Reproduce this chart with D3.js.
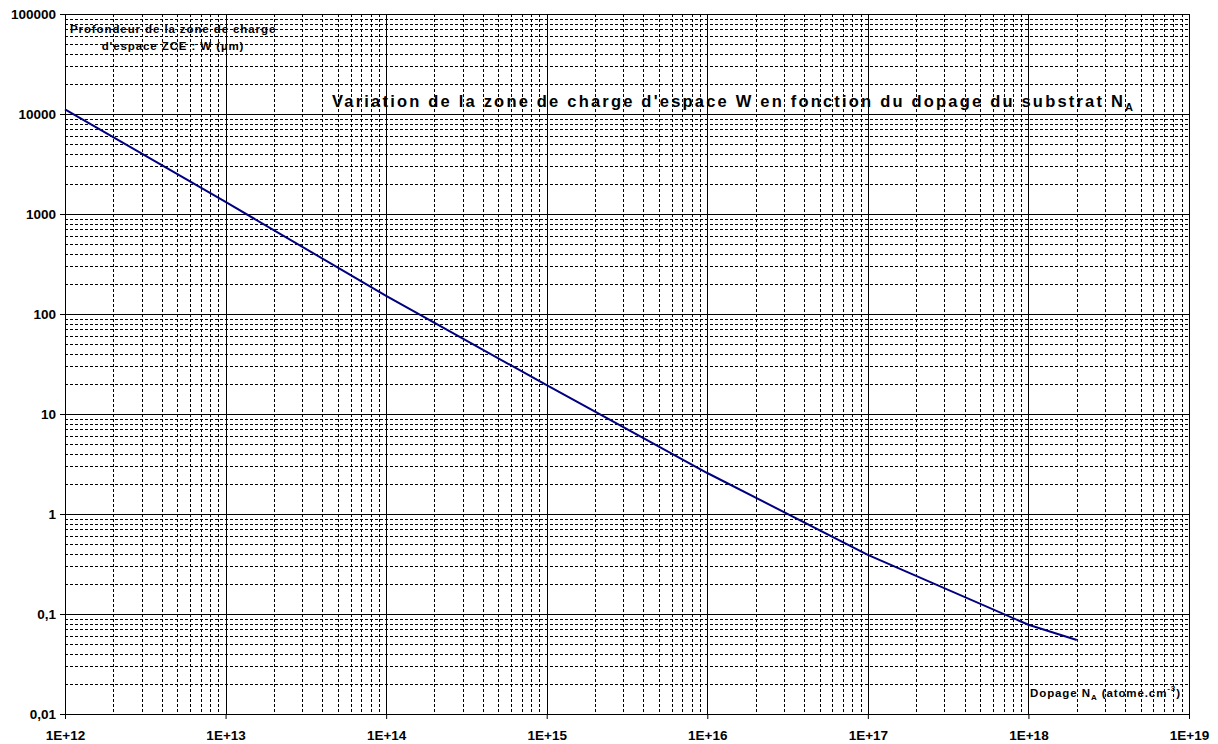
<!DOCTYPE html>
<html><head><meta charset="utf-8">
<script src="https://cdn.jsdelivr.net/npm/d3@7/dist/d3.min.js"></script>
<style>
body{margin:0;background:#fff;}
svg{display:block;font-family:"Liberation Sans",Arial,sans-serif;}
</style></head>
<body><svg id="c" width="1218" height="744"></svg>
<script>
// Data
const dopage = [1e12, 1e13, 1e14, 1e15, 1e16, 1e17, 1e18, 2e18];
const profondeurW = [11100, 1320, 152, 19.4, 2.57, 0.39, 0.078, 0.055];
const xTickValues = [1e12, 1e13, 1e14, 1e15, 1e16, 1e17, 1e18, 1e19];
const xTickLabels = ["1E+12", "1E+13", "1E+14", "1E+15", "1E+16", "1E+17", "1E+18", "1E+19"];
const yTickValues = [0.01, 0.1, 1, 10, 100, 1000, 10000, 100000];
const yTickLabels = ["0,01", "0,1", "1", "10", "100", "1000", "10000", "100000"];
const minorMultipliers = [2, 3, 4, 5, 6, 7, 8, 9];

const L = 65, R = 1189, T = 14, B = 714;
const svg = d3.select("#c");
const x = d3.scaleLog().domain([1e12, 1e19]).range([L, R]);
const y = d3.scaleLog().domain([0.01, 1e5]).range([B, T]);
const px = v => Math.round(v) + 0.5;

const g = svg.append("g");
// minor grid
const xMinor = [], yMinor = [];
xTickValues.slice(0, -1).forEach(d => minorMultipliers.forEach(m => xMinor.push(d * m)));
yTickValues.slice(0, -1).forEach(d => minorMultipliers.forEach(m => yMinor.push(d * m)));
g.selectAll(".vx").data(xMinor).enter().append("line")
  .attr("x1", d => px(x(d))).attr("x2", d => px(x(d))).attr("y1", T).attr("y2", B)
  .attr("stroke", "#000").attr("stroke-width", 1).attr("stroke-dasharray", "3,2");
g.selectAll(".hy").data(yMinor).enter().append("line")
  .attr("y1", d => px(y(d))).attr("y2", d => px(y(d))).attr("x1", L).attr("x2", R)
  .attr("stroke", "#000").attr("stroke-width", 1).attr("stroke-dasharray", "3,2");
// major grid
g.selectAll(".mx").data(xTickValues).enter().append("line")
  .attr("x1", d => px(x(d))).attr("x2", d => px(x(d))).attr("y1", T).attr("y2", B)
  .attr("stroke", "#000").attr("stroke-width", 1);
g.selectAll(".my").data(yTickValues).enter().append("line")
  .attr("y1", d => px(y(d))).attr("y2", d => px(y(d))).attr("x1", L).attr("x2", R)
  .attr("stroke", "#000").attr("stroke-width", 1);
// frame
svg.append("rect").attr("x", px(L)).attr("y", px(T)).attr("width", Math.round(R) - Math.round(L))
  .attr("height", Math.round(B) - Math.round(T)).attr("fill", "none").attr("stroke", "#000");

// axes
const xAxis = d3.axisBottom(x).tickValues(xTickValues)
  .tickFormat((d, i) => xTickLabels[i]).tickSize(5).tickSizeOuter(0);
const yAxis = d3.axisLeft(y).tickValues(yTickValues)
  .tickFormat((d, i) => yTickLabels[i]).tickSize(5).tickSizeOuter(0);
const gx = svg.append("g").attr("transform", `translate(0,${Math.round(B)})`).call(xAxis);
const gy = svg.append("g").attr("transform", `translate(${Math.round(L)},0)`).call(yAxis);
[gx, gy].forEach(a => {
  a.select(".domain").remove();
  a.selectAll("text").attr("font-size", 13.5).attr("font-weight", "bold")
    .attr("font-family", "Liberation Sans, Arial, sans-serif").attr("fill", "#000");
  a.selectAll("line").attr("stroke", "#000");
});
gx.selectAll("text").attr("dy", null).attr("y", 26);
gy.selectAll("text").attr("x", -9).attr("dy", "0.35em");

// line
const line = d3.line().x((d, i) => x(dopage[i])).y(d => y(d));
svg.append("path").datum(profondeurW).attr("d", line)
  .attr("fill", "none").attr("stroke", "#000080").attr("stroke-width", 2)
  .attr("stroke-linejoin", "round");

// texts
const t1 = svg.append("g").attr("font-size", 11.5).attr("font-weight", "bold").attr("fill", "#000")
  .attr("letter-spacing", 0.9);
t1.append("text").attr("x", 70).attr("y", 33).text("Profondeur de la zone de charge");
t1.append("text").attr("x", 173).attr("y", 50).attr("text-anchor", "middle").text("d'espace ZCE : W  (µm)");

const title = svg.append("text").attr("x", 332).attr("y", 107)
  .attr("font-size", 16.5).attr("font-weight", "bold").attr("fill", "#000").attr("letter-spacing", 2.2);
title.append("tspan").text("Variation de la zone de charge d'espace W en fonction du dopage du substrat N");
title.append("tspan").attr("font-size", 11).attr("dy", 4).text("A");

const xl = svg.append("text").attr("x", 1030).attr("y", 697)
  .attr("font-size", 11.5).attr("font-weight", "bold").attr("fill", "#000").attr("letter-spacing", 0.9);
xl.append("tspan").text("Dopage N");
xl.append("tspan").attr("font-size", 8).attr("dy", 3).text("A");
xl.append("tspan").attr("dy", -3).text(" (atome.cm");
xl.append("tspan").attr("font-size", 8).attr("dy", -6).text("-3");
xl.append("tspan").attr("dy", 6).text(")");
</script></body></html>
